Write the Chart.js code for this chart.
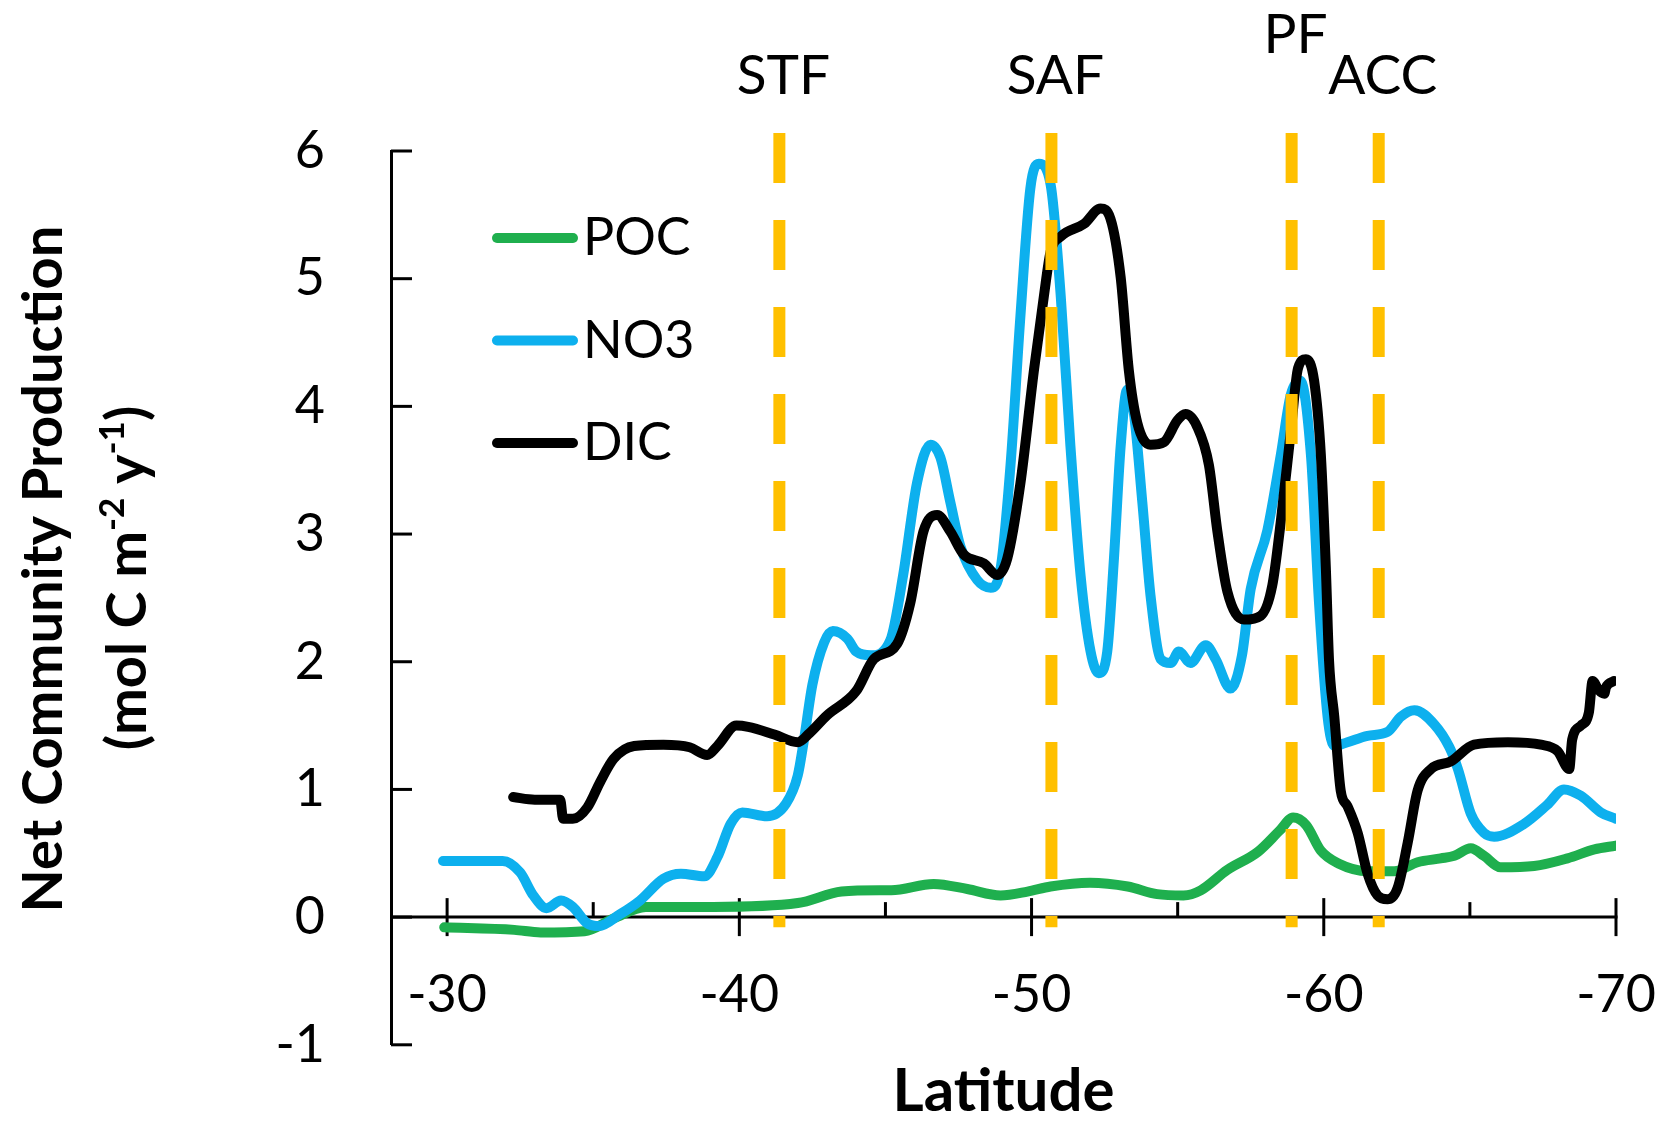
<!DOCTYPE html>
<html>
<head>
<meta charset="utf-8">
<script src="https://cdn.jsdelivr.net/npm/chart.js@4.4.1/dist/chart.umd.min.js"></script>
<style>
html, body { margin: 0; padding: 0; background: #fff; }
canvas { display: block; }
</style>
</head>
<body>
<canvas id="ch" width="1665" height="1142"></canvas>
<script>
// latitude (deg) and net community production (mol C m-2 y-1)
const pocLat = [-29.9, -32.3, -33.2, -34.7, -35.7, -36.8, -39.1, -42.0, -43.5, -44.8, -45.2, -46.65, -47.8, -48.94,
  -49.86, -50.65, -52.0, -53.29, -54.3, -55.2, -55.79, -56.7, -57.74, -58.5, -58.95, -59.4, -59.9, -60.5, -61.5,
  -62.41, -63.21, -64.0, -64.47, -65.03, -65.48, -66.05, -67.2, -68.34, -69.26, -70.0];
const pocVal = [-0.08, -0.10, -0.12, -0.11, -0.01, 0.08, 0.08, 0.11, 0.20, 0.21, 0.21, 0.26, 0.22, 0.17,
  0.20, 0.24, 0.27, 0.24, 0.18, 0.17, 0.21, 0.37, 0.51, 0.68, 0.78, 0.72, 0.52, 0.42, 0.36,
  0.36, 0.43, 0.46, 0.48, 0.54, 0.48, 0.39, 0.40, 0.46, 0.53, 0.56];

const no3Lat = [-29.86, -31.9, -32.5, -32.95, -33.4, -33.9, -34.3, -34.8, -35.2, -35.9, -36.6, -37.4, -38.0, -38.8,
  -39.25, -39.7, -40.1, -40.95, -41.6, -42.0, -42.2, -42.5, -42.9, -43.2, -43.7, -44.0, -44.5, -45.17, -45.6,
  -46.08, -46.54, -46.88, -47.22, -47.57, -48.14, -48.6, -48.94, -49.28, -49.62, -49.96, -50.25, -50.65, -51.0,
  -51.33, -51.68, -52.02, -52.3, -52.59, -52.82, -53.05, -53.27, -53.5, -53.79, -54.07, -54.42, -54.76, -55.04,
  -55.44, -55.96, -56.3, -56.81, -57.2, -57.5, -58.07, -58.53, -58.87, -59.2, -59.56, -59.84, -60.13, -60.36,
  -60.81, -61.5, -62.18, -62.64, -63.1, -63.78, -64.3, -64.59, -65.03, -65.48, -65.83, -66.85, -67.65, -68.22,
  -68.8, -69.48, -70.0];
const no3Val = [0.44, 0.44, 0.35, 0.17, 0.07, 0.13, 0.08, -0.05, -0.07, 0.02, 0.13, 0.30, 0.34, 0.32,
  0.47, 0.73, 0.82, 0.79, 0.89, 1.11, 1.37, 1.82, 2.15, 2.24, 2.18, 2.08, 2.05, 2.17, 2.67,
  3.40, 3.70, 3.60, 3.25, 2.90, 2.64, 2.58, 2.73, 3.54, 4.71, 5.71, 5.90, 5.74, 4.86,
  3.69, 2.67, 2.08, 1.91, 2.08, 2.81, 3.69, 4.13, 3.95, 3.25, 2.52, 2.02, 1.99, 2.08,
  1.99, 2.13, 2.02, 1.79, 2.05, 2.57, 3.03, 3.62, 4.09, 4.20, 3.62, 2.45, 1.57, 1.34,
  1.37, 1.42, 1.45, 1.57, 1.62, 1.51, 1.33, 1.16, 0.81, 0.66, 0.63, 0.73, 0.88, 1.00,
  0.95, 0.82, 0.77];

const dicLat = [-32.26, -33.0, -33.87, -33.97, -34.3, -34.8, -35.24, -35.7, -36.4, -37.4, -38.3, -38.9, -39.25,
  -39.9, -40.3, -41.2, -42.0, -42.4, -43.0, -44.0, -44.6, -45.4, -45.85, -46.3, -46.77, -47.22, -47.68, -48.37,
  -48.82, -49.17, -49.62, -50.08, -50.42, -50.65, -51.0, -51.8, -52.36, -52.7, -53.05, -53.33, -53.62, -54.07,
  -54.53, -54.99, -55.27, -55.67, -56.07, -56.36, -56.7, -57.27, -57.84, -58.24, -58.53, -58.87, -59.12, -59.39,
  -59.67, -59.9, -60.07, -60.18, -60.36, -60.58, -60.81, -61.16, -61.5, -61.84, -62.18, -62.53, -62.87, -63.21,
  -63.67, -64.35, -65.14, -66.3, -67.43, -68.0, -68.4, -68.5, -68.8, -69.07, -69.2, -69.4, -69.6, -69.66, -69.93];
const dicVal = [0.94, 0.92, 0.92, 0.77, 0.77, 0.86, 1.06, 1.24, 1.34, 1.35, 1.33, 1.27, 1.34,
  1.50, 1.49, 1.43, 1.37, 1.44, 1.58, 1.77, 2.02, 2.14, 2.46, 3.02, 3.15, 3.02, 2.84, 2.77,
  2.68, 2.81, 3.40, 4.28, 4.86, 5.21, 5.33, 5.43, 5.55, 5.47, 5.01, 4.28, 3.87, 3.70,
  3.72, 3.89, 3.94, 3.84, 3.54, 3.02, 2.55, 2.33, 2.36, 2.60, 3.10, 3.80, 4.30, 4.37,
  4.20, 3.62, 2.74, 2.01, 1.57, 0.99, 0.87, 0.66, 0.34, 0.17, 0.14, 0.23, 0.58, 0.99,
  1.16, 1.22, 1.35, 1.37, 1.35, 1.30, 1.16, 1.39, 1.50, 1.60, 1.85, 1.78, 1.75, 1.80, 1.85];

const seriesNames = ['POC', 'NO3', 'DIC'];
const seriesColors = ['#1FAF4E', '#0DB0EE', '#000000'];

// fronts
const frontNames = ['STF', 'SAF', 'PF', 'ACC'];
const frontLat = [-41.37, -50.68, -58.9, -61.88];
const frontTop = 6.14;
const frontBottom = -0.08;

const xTicks = [-30, -35, -40, -45, -50, -55, -60, -65, -70];
const xLabels = [-30, -40, -50, -60, -70];
const yTicks = [-1, 0, 1, 2, 3, 4, 5, 6];

const FONT = 'Lato, "Open Sans", sans-serif';

function pairs(lat, val) {
    return lat.map((x, i) => ({ x: x, y: val[i] }));
}

const axesPlugin = {
    id: 'axes',
    beforeDatasetsDraw(chart) {
        const ctx = chart.ctx, xs = chart.scales.x, ys = chart.scales.y, area = chart.chartArea;
        const y0 = ys.getPixelForValue(0);
        ctx.save();
        ctx.strokeStyle = '#000';
        ctx.lineWidth = 3;
        ctx.beginPath();
        ctx.moveTo(area.left, y0);
        ctx.lineTo(xs.getPixelForValue(-70) + 1.5, y0);
        ctx.stroke();
        xTicks.forEach(v => {
            const px = xs.getPixelForValue(v);
            const major = xLabels.includes(v);
            ctx.beginPath();
            ctx.moveTo(px, y0 - (major ? 19 : 15));
            ctx.lineTo(px, y0 + (major ? 19 : 0));
            ctx.stroke();
        });
        yTicks.forEach(v => {
            const py = ys.getPixelForValue(v);
            ctx.beginPath();
            ctx.moveTo(area.left, py);
            ctx.lineTo(area.left + 21, py);
            ctx.stroke();
        });
        ctx.restore();
    },
    afterDraw(chart) {
        const ctx = chart.ctx, xs = chart.scales.x, ys = chart.scales.y, area = chart.chartArea;
        ctx.save();
        ctx.fillStyle = '#000';

        // x tick labels
        ctx.font = '52px ' + FONT;
        ctx.textAlign = 'center';
        ctx.textBaseline = 'alphabetic';
        xLabels.forEach(v => {
            ctx.fillText(String(v), xs.getPixelForValue(v), ys.getPixelForValue(0) + 95);
        });

        // x title
        ctx.font = 'bold 60px ' + FONT;
        ctx.fillText('Latitude', (area.left + area.right) / 2, area.bottom + 66);

        // y title, two rotated lines
        ctx.save();
        ctx.translate(62, 569);
        ctx.rotate(-Math.PI / 2);
        ctx.font = 'bold 56px ' + FONT;
        ctx.textAlign = 'center';
        ctx.fillText('Net Community Production', 0, 0);
        ctx.restore();

        ctx.save();
        ctx.translate(146, 578);
        ctx.rotate(-Math.PI / 2);
        ctx.textAlign = 'left';
        const parts = [['(mol C m', false], ['-2', true], [' y', false], ['-1', true], [')', false]];
        let total = 0;
        parts.forEach(p => {
            ctx.font = p[1] ? 'bold 35px ' + FONT : 'bold 56px ' + FONT;
            total += ctx.measureText(p[0]).width;
        });
        let tx = -total / 2;
        parts.forEach(p => {
            ctx.font = p[1] ? 'bold 35px ' + FONT : 'bold 56px ' + FONT;
            ctx.fillText(p[0], tx, p[1] ? -22 : 0);
            tx += ctx.measureText(p[0]).width;
        });
        ctx.restore();

        // front names above the dashed lines
        ctx.font = '55px ' + FONT;
        ctx.textAlign = 'center';
        frontNames.forEach((name, i) => {
            const raise = name === 'PF' ? 41 : 0;
            ctx.fillText(name, xs.getPixelForValue(frontLat[i]) + 4, area.top - 57 - raise);
        });

        // legend
        ctx.font = '52px ' + FONT;
        ctx.textAlign = 'left';
        ctx.lineCap = 'round';
        seriesNames.forEach((name, i) => {
            const base = area.top + 104 + i * 102.5;
            const lx = area.left + 106;
            ctx.strokeStyle = seriesColors[i];
            ctx.lineWidth = 10;
            ctx.beginPath();
            ctx.moveTo(lx, base - 17);
            ctx.lineTo(lx + 76, base - 17);
            ctx.stroke();
            ctx.fillText(name, lx + 86, base);
        });
        ctx.restore();
    }
};

const frontSets = frontLat.map((lat, i) => ({
    label: frontNames[i],
    data: [{ x: lat, y: frontTop }, { x: lat, y: frontBottom }],
    borderColor: '#FFC000',
    borderWidth: 12,
    borderDash: [50, 37],
    borderCapStyle: 'butt',
    pointRadius: 0,
    clip: false,
    order: 0
}));

const lineStyle = {
    borderWidth: 10,
    pointRadius: 0,
    cubicInterpolationMode: 'monotone',
    borderJoinStyle: 'round',
    borderCapStyle: 'round',
    fill: false
};

new Chart(document.getElementById('ch').getContext('2d'), {
    type: 'line',
    data: {
        datasets: frontSets.concat([
            Object.assign({ label: 'DIC', data: pairs(dicLat, dicVal), borderColor: seriesColors[2], order: 1 }, lineStyle),
            Object.assign({ label: 'NO3', data: pairs(no3Lat, no3Val), borderColor: seriesColors[1], order: 2 }, lineStyle),
            Object.assign({ label: 'POC', data: pairs(pocLat, pocVal), borderColor: seriesColors[0], order: 3 }, lineStyle)
        ])
    },
    options: {
        responsive: false,
        devicePixelRatio: 1,
        animation: false,
        events: [],
        layout: { padding: { left: 0, top: 151, right: 49, bottom: 73 } },
        scales: {
            x: {
                type: 'linear',
                reverse: true,
                min: -70,
                max: -28.08,
                display: false
            },
            y: {
                min: -1,
                max: 6,
                afterFit(s) { s.width = 391; },
                ticks: { stepSize: 1, padding: 66, color: '#000', font: { family: FONT, size: 52 } },
                grid: { display: false, drawTicks: false },
                border: { display: true, color: '#000', width: 3 }
            }
        },
        plugins: {
            legend: { display: false },
            tooltip: { enabled: false }
        }
    },
    plugins: [axesPlugin]
});
</script>
</body>
</html>
